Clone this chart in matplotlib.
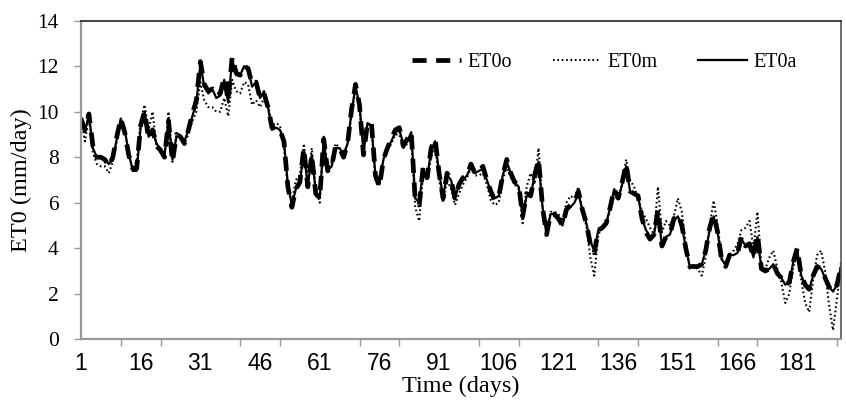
#!/usr/bin/env python3
"""
Grafik ET0 harian: observasi (ET0o), model (ET0m) dan ANN (ET0a)
"""

import matplotlib
matplotlib.use('Agg')
import matplotlib.pyplot as plt

# data harian
hari = list(range(1, 193))

et0o = [
    9.7, 9.2, 9.9, 8.5, 8.0, 8.0, 7.9, 7.6, 8.0, 8.9,
    9.7, 9.1, 8.1, 7.5, 7.5, 9.4, 10.0, 8.8, 9.2, 8.5,
    8.3, 8.0, 9.6, 7.8, 9.0, 8.9, 8.6, 9.2, 9.9, 10.5,
    12.2, 11.2, 10.9, 11.0, 10.7, 10.8, 11.5, 10.5, 12.4, 11.7,
    11.6, 12.0, 11.9, 11.2, 11.3, 10.6, 10.8, 10.2, 9.3, 9.3,
    9.2, 8.7, 6.7, 5.8, 6.6, 6.9, 8.4, 6.7, 8.1, 6.4,
    6.2, 8.8, 7.4, 7.6, 8.5, 8.4, 8.0, 8.6, 10.1, 11.2,
    10.3, 8.1, 9.5, 9.5, 7.2, 6.7, 7.9, 8.4, 8.8, 9.2,
    9.3, 8.5, 8.8, 9.1, 6.1, 5.9, 7.6, 7.1, 8.4, 8.8,
    7.3, 6.2, 7.3, 7.0, 6.2, 6.8, 7.1, 7.2, 7.7, 7.3,
    7.4, 7.6, 7.0, 6.5, 6.1, 6.3, 7.2, 7.9, 7.3, 6.9,
    6.8, 5.4, 6.4, 6.3, 7.2, 7.9, 5.8, 4.6, 5.5, 5.5,
    5.3, 5.0, 5.7, 5.9, 6.0, 6.5, 5.7, 5.1, 4.2, 3.8,
    4.8, 4.9, 5.1, 5.8, 6.6, 6.2, 6.9, 7.7, 6.5, 6.4,
    6.3, 5.3, 4.7, 4.4, 4.6, 5.7, 4.1, 4.5, 4.6, 5.3,
    5.5, 5.0, 4.0, 3.2, 3.2, 3.2, 3.3, 3.9, 4.9, 5.5,
    4.7, 3.5, 3.2, 3.7, 3.7, 3.8, 4.5, 4.1, 4.2, 3.6,
    4.6, 3.1, 3.0, 3.1, 3.3, 2.9, 2.7, 2.4, 2.5, 3.4,
    4.0, 2.8, 2.4, 2.2, 2.8, 3.2, 3.1, 2.7, 2.3, 2.1,
    2.4, 3.2,
]

et0m = [
    9.7, 8.7, 9.8, 8.2, 7.7, 7.6, 7.6, 7.3, 7.8, 8.7,
    9.6, 9.3, 8.0, 7.6, 7.8, 9.6, 10.3, 9.2, 10.0, 8.4,
    8.4, 8.0, 10.0, 7.8, 9.0, 8.9, 8.6, 9.0, 9.6, 10.0,
    11.3, 10.5, 10.2, 10.2, 10.0, 10.0, 10.6, 9.8, 11.4, 10.9,
    10.8, 11.3, 11.2, 10.3, 10.5, 10.2, 10.6, 10.3, 9.4, 9.5,
    9.4, 8.5, 6.6, 6.0, 7.0, 7.2, 8.6, 7.0, 8.4, 6.6,
    6.0, 8.9, 7.5, 7.8, 8.6, 8.4, 8.1, 8.6, 9.9, 11.0,
    10.2, 8.3, 9.4, 9.3, 7.0, 7.1, 7.9, 8.3, 8.6, 9.0,
    9.0, 8.4, 8.6, 8.8, 5.8, 5.2, 7.3, 7.0, 8.0, 8.5,
    7.0, 6.0, 7.0, 6.6, 5.9, 6.4, 6.8, 7.1, 7.5, 7.2,
    7.2, 7.3, 6.8, 6.1, 5.9, 6.0, 7.0, 7.6, 7.1, 6.8,
    6.6, 5.1, 6.7, 7.3, 6.8, 8.4, 5.8, 4.7, 5.6, 5.6,
    5.5, 5.2, 6.0, 6.3, 6.2, 6.7, 5.6, 5.0, 3.6, 2.8,
    4.6, 4.9, 5.0, 5.7, 6.5, 6.1, 6.8, 7.9, 7.0, 6.7,
    6.2, 5.6, 5.3, 4.9, 4.6, 6.7, 4.7, 5.2, 5.0, 5.4,
    6.2, 5.6, 4.2, 3.1, 3.2, 3.1, 2.8, 3.6, 5.0, 6.1,
    5.0, 3.6, 3.2, 3.7, 3.9, 4.2, 4.8, 4.9, 5.2, 4.0,
    5.6, 3.2, 3.1, 3.6, 3.9, 3.1, 2.5, 1.6, 2.0, 3.2,
    3.7, 2.6, 1.6, 1.2, 2.6, 3.7, 3.9, 3.0, 1.5, 0.4,
    1.8, 3.4,
]

et0a = [
    9.8, 9.1, 9.9, 8.4, 8.0, 8.0, 7.9, 7.7, 7.9, 8.8,
    9.7, 9.2, 8.2, 7.4, 7.4, 9.3, 10.0, 8.9, 9.1, 8.6,
    8.3, 8.1, 9.6, 7.9, 8.9, 8.9, 8.7, 9.2, 9.8, 10.4,
    12.1, 11.1, 10.8, 11.0, 10.6, 10.7, 11.4, 10.4, 12.3, 11.6,
    11.6, 12.0, 11.9, 11.1, 11.3, 10.6, 10.9, 10.2, 9.2, 9.3,
    9.2, 8.7, 6.8, 5.9, 6.6, 6.8, 8.3, 6.7, 8.1, 6.5,
    6.2, 8.7, 7.4, 7.6, 8.4, 8.4, 8.1, 8.6, 10.0, 11.1,
    10.3, 8.2, 9.5, 9.4, 7.2, 6.8, 7.9, 8.4, 8.7, 9.1,
    9.2, 8.6, 8.7, 9.1, 6.2, 6.0, 7.5, 7.1, 8.3, 8.7,
    7.3, 6.3, 7.2, 7.0, 6.2, 6.8, 7.0, 7.2, 7.6, 7.3,
    7.4, 7.5, 7.0, 6.5, 6.2, 6.3, 7.2, 7.8, 7.3, 6.9,
    6.7, 5.4, 6.3, 6.3, 7.2, 7.8, 5.8, 4.6, 5.5, 5.5,
    5.3, 5.0, 5.7, 5.8, 6.0, 6.4, 5.7, 5.1, 4.3, 3.9,
    4.8, 4.9, 5.1, 5.8, 6.6, 6.2, 6.8, 7.6, 6.5, 6.4,
    6.3, 5.3, 4.8, 4.5, 4.6, 5.6, 4.1, 4.5, 4.6, 5.2,
    5.4, 5.0, 4.0, 3.2, 3.2, 3.2, 3.3, 3.9, 4.8, 5.4,
    4.7, 3.5, 3.3, 3.7, 3.7, 3.8, 4.4, 4.1, 4.2, 3.6,
    4.5, 3.1, 3.0, 3.1, 3.3, 2.9, 2.7, 2.4, 2.5, 3.4,
    3.9, 2.8, 2.4, 2.2, 2.8, 3.2, 3.1, 2.7, 2.3, 2.1,
    2.4, 3.2,
]

label_hari = list(range(1, 182, 15))
tick_hari = list(range(1, 193, 10))
tick_y = list(range(0, 15, 2))


def buat_grafik():
    """Gambar ketiga seri ET0"""
    serif = ['Liberation Serif', 'DejaVu Serif']
    fig = plt.figure(figsize=(8.46, 4.04), dpi=100)
    ax = fig.add_axes([0.0957, 0.160, 0.8984, 0.789])

    ax.plot(hari, et0o, color='black', lw=3.4, ls=(0, (3.0, 2.0)), label='ET0o')
    ax.plot(hari, et0m, color='black', lw=1.5, ls=(0, (0.8, 1.3)), label='ET0m')
    ax.plot(hari, et0a, color='black', lw=1.6, ls='-', label='ET0a')

    ax.set_xlim(1, 192)
    ax.set_ylim(0, 14)

    # label tiap 15 hari, garis tick tiap 10 hari
    ax.set_xticks(label_hari)
    ax.set_xticklabels([str(h) for h in label_hari],
                       family=['Liberation Sans Narrow', 'Liberation Sans'], fontsize=16.5)
    ax.tick_params(axis='x', which='major', length=0, pad=9)
    ax.set_xticks(tick_hari, minor=True)
    ax.tick_params(axis='x', which='minor', length=5, color='#999999', width=1)

    ax.set_yticks(tick_y)
    ax.set_yticklabels([str(v) for v in tick_y], family=serif, fontsize=15.5)
    ax.tick_params(axis='y', length=5, color='#999999', width=1, pad=11)

    for s in ['left', 'bottom']:
        ax.spines[s].set_color('#999999')
        ax.spines[s].set_linewidth(1.6)
    ax.spines['top'].set_color('#222222')
    ax.spines['top'].set_linewidth(1.2)
    ax.spines['right'].set_color('#555555')
    ax.spines['right'].set_linewidth(1.2)

    ax.set_xlabel('Time (days)', family=serif, fontsize=17.5, labelpad=1)
    ax.set_ylabel('ET0 (mm/day)', family=serif, fontsize=17.5, labelpad=4)

    ax.legend(loc='upper right', bbox_to_anchor=(0.966, 0.955), ncol=3, frameon=False,
              prop={'family': serif, 'size': 14.5}, handlelength=2.4,
              handletextpad=0.35, columnspacing=2.0)

    fig.savefig('out.png', dpi=100)
    plt.close(fig)


def main():
    buat_grafik()


if __name__ == "__main__":
    main()
